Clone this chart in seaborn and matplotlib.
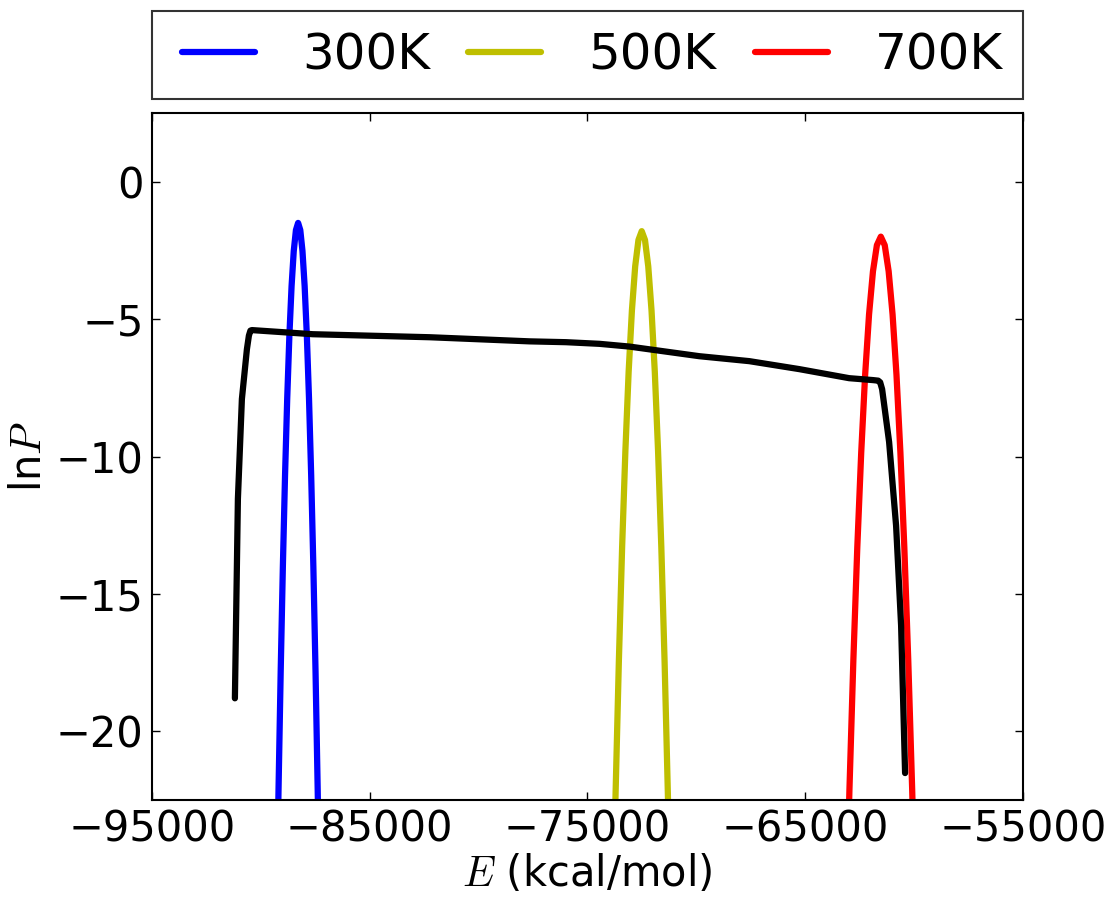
import matplotlib
matplotlib.use("Agg")
import matplotlib.pyplot as plt
import seaborn as sns
import pandas as pd
from matplotlib.lines import Line2D
from matplotlib.legend_handler import HandlerLine2D

# ---- data ----
E_300 = [-89290, -89190, -89090, -88990, -88890, -88790, -88690, -88590, -88490, -88390,
         -88290, -88190, -88090, -87990, -87890, -87790, -87690, -87590, -87490, -87390, -87290]
lnP_300 = [-27.00, -22.16, -17.82, -14.00, -10.68, -7.88, -5.58, -3.80, -2.52, -1.76,
           -1.50, -1.76, -2.52, -3.80, -5.58, -7.88, -10.68, -14.00, -17.82, -22.16, -27.00]

E_500 = [-73860, -73710, -73560, -73410, -73260, -73110, -72960, -72810, -72660,
         -72510, -72360, -72210, -72060, -71910, -71760, -71610, -71460, -71310, -71160]
lnP_500 = [-27.68, -22.25, -17.46, -13.30, -9.79, -6.91, -4.68, -3.08, -2.12,
           -1.80, -2.12, -3.08, -4.68, -6.91, -9.79, -13.30, -17.46, -22.25, -27.68]

E_700 = [-63150, -62970, -62790, -62610, -62430, -62250, -62070, -61890, -61710,
         -61530, -61350, -61170, -60990, -60810, -60630, -60450, -60270, -60090, -59910]
lnP_700 = [-27.46, -22.11, -17.40, -13.31, -9.86, -7.03, -4.83, -3.26, -2.31,
           -2.00, -2.31, -3.26, -4.83, -7.03, -9.86, -13.31, -17.40, -22.11, -27.46]

E_all = [-91193, -91055, -90872, -90642, -90550, -90480, -90413, -87615, -82248, -77661,
         -75990, -74450, -73070, -72157, -69863, -67570, -65276, -62983, -61880, -61650,
         -61560, -61470, -61149, -60828, -60598, -60415]
lnP_all = [-18.80, -11.54, -7.91, -6.10, -5.60, -5.42, -5.40, -5.55, -5.66, -5.81,
           -5.84, -5.90, -6.00, -6.10, -6.35, -6.53, -6.82, -7.15, -7.22, -7.24,
           -7.30, -7.55, -9.47, -12.52, -16.15, -21.52]

labels = ["300K", "500K", "700K"]
colors = ["#0000ff", "#bfbf00", "#ff0000"]
xticks = [-95000, -85000, -75000, -65000, -55000]
yticks = [0, -5, -10, -15, -20]

# ---- style ----
sns.set_style("white", {
    "xtick.direction": "in", "ytick.direction": "in",
    "xtick.top": True, "ytick.right": True,
    "xtick.bottom": True, "ytick.left": True,
    "axes.edgecolor": "black", "text.color": "black",
    "axes.labelcolor": "black", "xtick.color": "black", "ytick.color": "black",
})
plt.rcParams["font.family"] = ["DejaVu Sans"]
plt.rcParams["mathtext.fontset"] = "cm"
plt.rcParams["xtick.major.size"] = 6
plt.rcParams["ytick.major.size"] = 6
plt.rcParams["xtick.major.width"] = 1.0
plt.rcParams["ytick.major.width"] = 1.0

peaks = pd.concat([
    pd.DataFrame({"E": E_300, "lnP": lnP_300, "T": labels[0]}),
    pd.DataFrame({"E": E_500, "lnP": lnP_500, "T": labels[1]}),
    pd.DataFrame({"E": E_700, "lnP": lnP_700, "T": labels[2]}),
], ignore_index=True)

LW = 4.5
fig = plt.figure(figsize=(11.11, 9), dpi=100)
ax = fig.add_axes([152 / 1111, 100 / 900, (1023 - 152) / 1111, (800 - 113) / 900])

sns.lineplot(data=peaks, x="E", y="lnP", hue="T", palette=dict(zip(labels, colors)),
             hue_order=labels, sort=False, estimator=None, linewidth=LW, ax=ax)
sns.lineplot(x=E_all, y=lnP_all, color="black", sort=False, estimator=None,
             linewidth=LW, ax=ax)

ax.set_xlim(-95000, -55000)
ax.set_ylim(-22.5, 2.5)
ax.set_xticks(xticks)
ax.set_yticks(yticks)
ax.tick_params(labelsize=30, pad=6, colors="black")
for s in ax.spines.values():
    s.set_linewidth(1.5)
ax.set_xlabel("$E$ (kcal/mol)", fontsize=30, labelpad=2)
ax.set_ylabel("ln$P$", fontsize=30, labelpad=4)

handles, labs = ax.get_legend_handles_labels()
leg = ax.legend(handles[:3], labs[:3], bbox_to_anchor=(0, 1.02, 1, 0.127), loc="lower left",
                ncol=3, mode="expand", borderaxespad=0, fontsize=36, frameon=True,
                fancybox=False, edgecolor="black", handlelength=1.66, handletextpad=0.94,
                borderpad=0.4, handler_map={Line2D: HandlerLine2D(xpad=0.2)})
leg.get_frame().set_linewidth(1.5)
for ln in leg.get_lines():
    ln.set_linewidth(LW)

fig.savefig("out.png", dpi=100)
